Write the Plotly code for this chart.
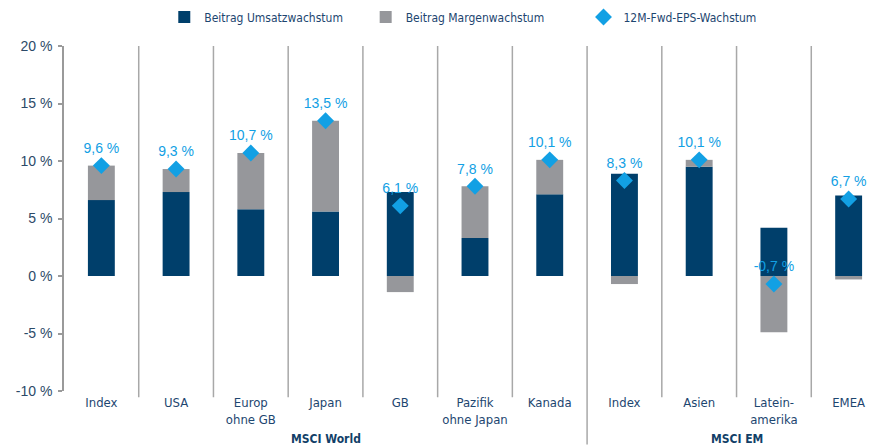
import plotly.graph_objects as go

categories = ["Index", "USA", "Europ<br>ohne GB", "Japan", "GB", "Pazifik<br>ohne Japan",
              "Kanada", "Index", "Asien", "Latein-<br>amerika", "EMEA"]
groups = ["MSCI World", "MSCI EM"]
group_sizes = [7, 4]

umsatz = [6.6, 7.3, 5.8, 5.6, 7.3, 3.3, 7.1, 8.9, 9.5, 4.2, 7.0]
marge = [3.0, 2.0, 4.9, 7.9, -1.4, 4.5, 3.0, -0.7, 0.6, -4.9, -0.3]
eps = [9.6, 9.3, 10.7, 13.5, 6.1, 7.8, 10.1, 8.3, 10.1, -0.7, 6.7]

y_ticks = [-10, -5, 0, 5, 10, 15, 20]
y_ticktext = [f"{v} %" for v in y_ticks]

DARK = "#003f6b"
GRAY = "#96979b"
LIGHT = "#12a0e4"
NAVY = "#1d4670"
NARROW = "DejaVu Sans Condensed, Liberation Sans Narrow, Arial Narrow, sans-serif"
SANS = "Liberation Sans, Arial, sans-serif"

xs = list(range(len(categories)))
eps_text = [f"{v:.1f} %".replace(".", ",") for v in eps]

fig = go.Figure()
fig.add_trace(go.Bar(x=xs, y=umsatz, name="Beitrag Umsatzwachstum",
                     marker=dict(color=DARK, line=dict(width=0)),
                     width=0.36, legend="legend"))
fig.add_trace(go.Bar(x=xs, y=marge, name="Beitrag Margenwachstum",
                     marker=dict(color=GRAY, line=dict(width=0)),
                     width=0.36, legend="legend2"))
fig.add_trace(go.Scatter(x=xs, y=eps, name="12M-Fwd-EPS-Wachstum", mode="markers+text",
                         marker=dict(symbol="diamond", size=13, color=LIGHT),
                         text=eps_text, textposition="top center",
                         textfont=dict(family=SANS, size=14, color=LIGHT),
                         legend="legend3", cliponaxis=False))

shapes = []
for i in range(len(categories) - 1):
    boundary = i + 0.5
    long = (i == group_sizes[0] - 1)
    shapes.append(dict(type="line", xref="x", yref="paper", x0=boundary, x1=boundary,
                       y0=-0.155 if long else -0.018, y1=1.0,
                       line=dict(color="#a8a8a8", width=1.5)))

annotations = []
start = 0
for g, n in zip(groups, group_sizes):
    centre = start + (n - 1) / 2
    annotations.append(dict(text=f"<b>{g}</b>", x=centre, xref="x", y=-0.14, yref="paper",
                            yanchor="middle", showarrow=False,
                            font=dict(family=NARROW, size=12, color="#123f68")))
    start += n

legend_common = dict(orientation="h", yref="paper", y=1.084, yanchor="middle", xanchor="left",
                     font=dict(family=NARROW, size=12, color=NAVY), bgcolor="rgba(0,0,0,0)",
                     itemwidth=30)

# the page body adds an 8 px margin, so the figure is 8 px smaller each way
fig.update_layout(
    width=878, height=438, autosize=False,
    margin=dict(l=56, r=0, t=38, b=55, autoexpand=False),
    plot_bgcolor="white", paper_bgcolor="white",
    barmode="relative",
    showlegend=True,
    legend=dict(x=0.122, **legend_common),
    legend2=dict(x=0.367, **legend_common),
    legend3=dict(x=0.632, **legend_common),
    xaxis=dict(range=[-0.5, len(categories) - 0.5], tickvals=xs, ticktext=categories,
               showgrid=False, zeroline=False, showline=False, ticks="",
               ticklabelstandoff=2,
               tickfont=dict(family=NARROW, size=13, color=NAVY)),
    yaxis=dict(range=[-10, 20], tickvals=y_ticks, ticktext=y_ticktext,
               showgrid=False, zeroline=False, showline=True, linecolor="#9a9a9a", linewidth=1.5,
               ticks="outside", ticklen=4, tickcolor="#9a9a9a", tickwidth=1.5,
               ticklabelstandoff=3,
               tickfont=dict(family=SANS, size=14, color="#2c4a68")),
    shapes=shapes,
    annotations=annotations,
)

fig.write_html("out.html")
